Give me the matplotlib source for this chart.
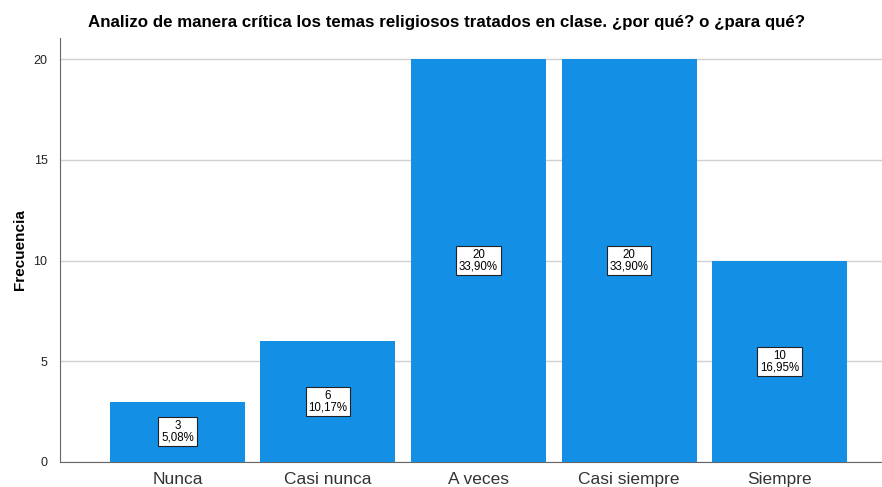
import matplotlib
matplotlib.use("Agg")
import matplotlib.pyplot as plt

categories = ["Nunca", "Casi nunca", "A veces", "Casi siempre", "Siempre"]
counts = [3, 6, 20, 20, 10]
percents = ["5,08%", "10,17%", "33,90%", "33,90%", "16,95%"]
yticks = [0, 5, 10, 15, 20]
title = "Analizo de manera crítica los temas religiosos tratados en clase. ¿por qué? o ¿para qué?"

plt.rcParams['font.family'] = ['Liberation Sans', 'DejaVu Sans']

fig = plt.figure(figsize=(8.82, 4.87), dpi=100)
ax = fig.add_axes([60/882, 25/487, 1 - 60/882, (462-38)/487])

x = list(range(len(categories)))
ax.bar(x, counts, width=0.897, color='#1390e6', zorder=3)
for xi, c, p in zip(x, counts, percents):
    ax.text(xi, c/2, f"{c}\n{p}", ha='center', va='center', fontsize=8.3, linespacing=0.95,
            zorder=4, bbox=dict(boxstyle='square,pad=0.25', fc='white', ec='#222222', lw=0.8))

ax.set_xlim(-0.78, 4.68)
ax.set_ylim(0, 21.05)
ax.set_yticks(yticks)
ax.set_xticks(x)
ax.set_xticklabels(categories, fontsize=12.5, color='#333333')
ax.tick_params(axis='y', labelsize=9, length=0, pad=9, colors='#222222')
ax.tick_params(axis='x', length=0, pad=7)
ax.yaxis.grid(True, color='#d0d0d0', lw=1, zorder=0)
for s in ['top', 'right']:
    ax.spines[s].set_visible(False)
ax.spines['left'].set_color('#666666')
ax.spines['bottom'].set_color('#666666')
ax.set_ylabel("Frecuencia", fontsize=11, fontweight='bold', labelpad=5)
fig.text(447/882, 1 - 23/487, title, ha='center', va='center', fontsize=12.2, fontweight='bold')

fig.savefig("out.png", dpi=100)
